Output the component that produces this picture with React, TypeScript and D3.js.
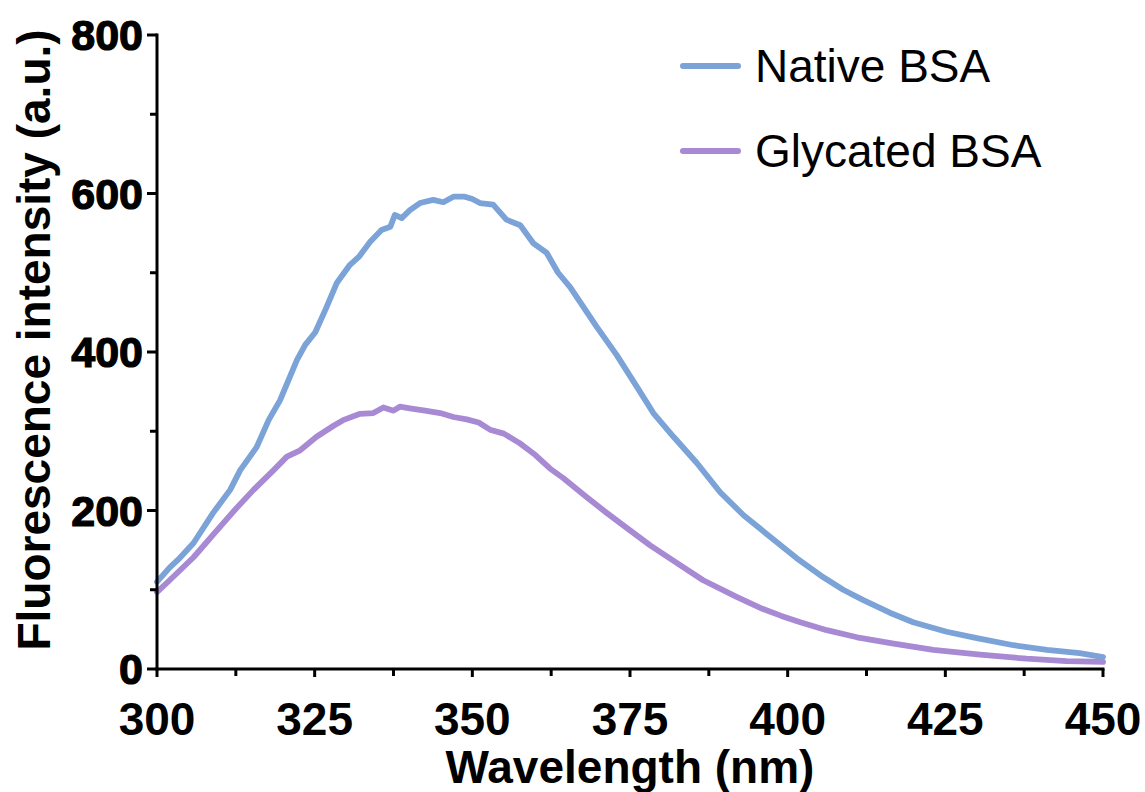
import React from "react";
import * as d3 from "d3";

const nativeWl = [300, 302, 303.6, 305.8, 308.9, 311.6, 313.2, 315.8, 317.7, 319.5, 322.2, 323.5, 325.1, 326.8, 328.5, 330.6, 332, 333.8, 335.6, 337, 337.7, 338.8, 340.1, 341.7, 343.8, 345.4, 347, 348.8, 350, 351.2, 353.3, 355.4, 357.6, 359.7, 361.8, 363.6, 365.5, 367.1, 369.7, 372.9, 376.1, 378.7, 381.9, 385.6, 389.3, 393, 397.2, 401.4, 405.6, 408.8, 412, 416.2, 419.9, 425.2, 430, 435.8, 441.1, 446.3, 450];
const nativeVal = [110, 128, 140, 159, 197, 226, 251, 280, 314, 339, 390, 409, 425, 455, 487, 510, 520, 539, 554, 558, 573, 569, 579, 588, 592, 589, 596, 596, 593, 588, 586, 567, 560, 537, 525, 500, 482, 463, 432, 396, 356, 323, 293, 260, 223, 194, 167, 140, 116, 100, 87, 71, 59, 47, 39, 30, 24, 20, 15];

const glyWl = [300, 302, 305.8, 309.5, 312.6, 315.3, 318.5, 320.6, 322.7, 325.3, 328, 329.5, 332.2, 334.3, 335.9, 337.5, 338.5, 340.1, 342.5, 344.9, 347, 349.1, 351, 352.8, 355, 357.5, 360, 362.3, 364.4, 368.1, 371.3, 375, 378.2, 382.4, 386.6, 391.9, 396, 399, 402, 406.2, 411, 416.8, 423.1, 430.5, 437.9, 444.2, 450];
const glyVal = [97, 112, 141, 175, 203, 226, 251, 268, 276, 293, 307, 314, 322, 323, 330, 326, 331, 329, 326, 323, 318, 315, 311, 302, 297, 285, 270, 253, 241, 217, 197, 175, 156, 134, 112, 91, 76, 67, 59, 49, 40, 32, 24, 18, 13, 10, 9];

const xMajorTicks = [300, 325, 350, 375, 400, 425, 450];
const xMinorTicks = [312.5, 337.5, 362.5, 387.5, 412.5, 437.5];
const yMajorTicks = [0, 200, 400, 600, 800];
const yMinorTicks = [100, 300, 500, 700];

const seriesNames = ["Native BSA", "Glycated BSA"];
const seriesColors = ["#7BA3D8", "#A78AD3"];

const W = 1145, H = 792;
const L = 157, R = 1103, T = 35, B = 669;

export default function App() {
  const x = d3.scaleLinear().domain([300, 450]).range([L, R]);
  const y = d3.scaleLinear().domain([0, 800]).range([B, T]);
  const line = d3.line<[number, number]>().x(d => x(d[0])).y(d => y(d[1])).curve(d3.curveLinear);
  const nativeData: [number, number][] = nativeWl.map((w, i) => [w, nativeVal[i]]);
  const glyData: [number, number][] = glyWl.map((w, i) => [w, glyVal[i]]);
  const font = "'Liberation Sans', Arial, sans-serif";
  return (
    <svg width={W} height={H} style={{ position: "absolute", left: 0, top: 0, background: "#fff" }} fontFamily={font}>
      <rect x={0} y={0} width={W} height={H} fill="#fff" />
      <path d={line(glyData) || ""} fill="none" stroke={seriesColors[1]} strokeWidth={5.8} strokeLinejoin="round" strokeLinecap="round" />
      <path d={line(nativeData) || ""} fill="none" stroke={seriesColors[0]} strokeWidth={5.8} strokeLinejoin="round" strokeLinecap="round" />
      <line x1={L} x2={L} y1={T - 1.5} y2={B + 1.5} stroke="#000" strokeWidth={3} />
      <line x1={L - 1.5} x2={R + 1.5} y1={B} y2={B} stroke="#000" strokeWidth={3} />
      {yMajorTicks.map(t => (
        <g key={"ym" + t}>
          <line x1={L - 10} x2={L} y1={y(t)} y2={y(t)} stroke="#000" strokeWidth={3} />
          <text x={L - 14} y={y(t)} dy="0.36em" textAnchor="end" fontSize={43} fontWeight="bold" stroke="#000" strokeWidth={1.2}>{t}</text>
        </g>
      ))}
      {yMinorTicks.map(t => (
        <line key={"yn" + t} x1={L - 7} x2={L} y1={y(t)} y2={y(t)} stroke="#000" strokeWidth={3} />
      ))}
      {xMajorTicks.map(t => (
        <g key={"xm" + t}>
          <line x1={x(t)} x2={x(t)} y1={B} y2={B + 8} stroke="#000" strokeWidth={3} />
          <text x={x(t)} y={735} textAnchor="middle" fontSize={46} fontWeight="bold">{t}</text>
        </g>
      ))}
      {xMinorTicks.map(t => (
        <line key={"xn" + t} x1={x(t)} x2={x(t)} y1={B} y2={B + 7} stroke="#000" strokeWidth={3} />
      ))}
      <text x={(L + R) / 2} y={783} textAnchor="middle" fontSize={46} fontWeight="bold">Wavelength (nm)</text>
      <text transform={`translate(50, 340) rotate(-90)`} textAnchor="middle" fontSize={46} fontWeight="bold">Fluorescence intensity (a.u.)</text>
      {seriesNames.map((n, i) => (
        <g key={n}>
          <line x1={683} x2={738} y1={66 + i * 85} y2={66 + i * 85} stroke={seriesColors[i]} strokeWidth={6} strokeLinecap="round" />
          <text x={755} y={82 + i * 85} fontSize={46}>{n}</text>
        </g>
      ))}
    </svg>
  );
}
